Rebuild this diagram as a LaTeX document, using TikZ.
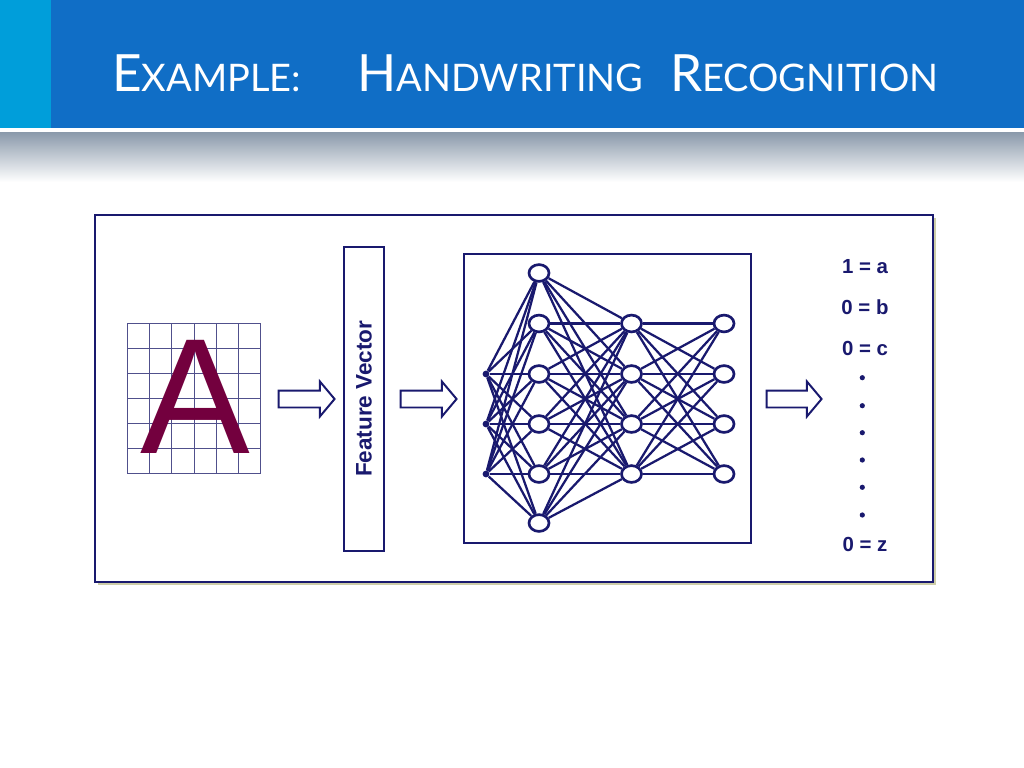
\documentclass[tikz,border=0pt]{standalone}
\usepackage{fontspec}
\usetikzlibrary{shapes,arrows,positioning}
\setmainfont{Liberation Sans}
\newfontfamily\titlefont{Lato}
\definecolor{navy}{RGB}{25,25,110}
\definecolor{barblue}{RGB}{16,110,198}
\definecolor{stripblue}{RGB}{0,158,218}
\definecolor{fadegray}{RGB}{140,155,172}
\definecolor{maroon}{RGB}{115,0,62}
\definecolor{gridc}{RGB}{80,80,140}
\definecolor{shadowc}{RGB}{205,205,168}
\newcommand{\capbig}[1]{{\fontsize{36.5pt}{40pt}\selectfont #1}}
\newcommand{\capsmall}[1]{{\fontsize{27pt}{30pt}\selectfont #1}}

\begin{document}
\begin{tikzpicture}[x=0.025cm, y=-0.025cm,
		neuron/.style={draw=navy, ellipse, line width=1.9pt, fill=white, minimum width=0.5cm, minimum height=0.42cm, inner sep=0},
		dotin/.style={circle, fill=navy, minimum size=0.17cm, inner sep=0},
		dotout/.style={circle, fill=navy, minimum size=0.13cm, inner sep=0},
		link/.style={draw=navy, line width=1.6pt},
		block/.style={draw=navy, line width=1.4pt, fill=white, single arrow, single arrow head extend=0.225cm, inner sep=0.1875cm, minimum height=1.4cm, single arrow tip angle=100},
		outtext/.style={text=navy, inner sep=0, anchor=base, font=\fontsize{14.5pt}{16pt}\selectfont\bfseries}]
	\useasboundingbox (0,0) rectangle (1024,768);
	% title bar
	\fill[barblue] (0,0) rectangle (1024,128);
	\fill[stripblue] (0,0) rectangle (51,128);
	\shade[top color=fadegray, bottom color=white] (0,133) rectangle (1024,182);
	\node[anchor=base west, inner sep=0, text=white, font=\titlefont] (title) at (112,92)
		{\capbig{E}\capsmall{XAMPLE:}\hspace{40pt}\capbig{H}\capsmall{ANDWRITING}\hspace{19pt}\capbig{R}\capsmall{ECOGNITION}};
	% frame
	\fill[shadowc] (98,218) rectangle (936,585);
	\draw[navy, line width=1.4pt, fill=white] (95,215) rectangle (933,582);
	% letter grid
	\foreach \i in {0,...,6} {
		\draw[gridc, line width=0.5pt] (127.3+\i*22.22,323.3) -- (127.3+\i*22.22,473.3);
		\draw[gridc, line width=0.5pt] (127.3,323.3+\i*25) -- (260.7,323.3+\i*25);
	}
	\node[anchor=base, inner sep=0, text=maroon, font=\fontsize{117pt}{120pt}\selectfont] (letter) at (195,453) {A};
	% feature vector and network box
	\node[block] (arr1) at (303,399) {};
	\node[draw=navy, line width=1.4pt, rotate=90, minimum width=7.6cm, minimum height=1cm, text=navy, font=\fontsize{16pt}{18pt}\selectfont\bfseries] (fvec) at (364,398.7) {Feature Vector};
	\node[block] (arr2) at (425,399) {};
	\node[draw=navy, line width=1.4pt, minimum width=7.175cm, minimum height=7.225cm] (net) at (607.5,398.5) {};
	% neurons
	\foreach \i/\y in {1/374,2/424,3/474}
		\node[dotin] (in\i) at (486,\y) {};
	\foreach \i/\y in {1/273,2/323.5,3/374,4/424,5/474,6/523}
		\node[neuron] (ha\i) at (539,\y) {};
	\foreach \i/\y in {1/323.5,2/374,3/424,4/474} {
		\node[neuron] (hb\i) at (631.5,\y) {};
		\node[neuron] (out\i) at (724,\y) {};
	}
	% links
	\foreach \i in {1,...,3}
		\foreach \j in {1,...,6}
			\draw[link] (in\i) -- (ha\j);
	\foreach \i in {1,...,6}
		\foreach \j in {1,...,4}
			\draw[link] (ha\i) -- (hb\j);
	\foreach \i in {1,...,4}
		\foreach \j in {1,...,4}
			\draw[link] (hb\i) -- (out\j);
	% outputs
	\node[block, minimum height=1.375cm] (arr3) at (790.5,399) {};
	\node[outtext] (outa) at (865,273.3) {1 = a};
	\node[outtext] (outb) at (865,314) {0 = b};
	\node[outtext] (outc) at (865,355) {0 = c};
	\foreach \i/\y in {1/377.7,2/405.7,3/432.7,4/460,5/487.3,6/515}
		\node[dotout] (gap\i) at (862.3,\y) {};
	\node[outtext] (outz) at (865,551.7) {0 = z};
\end{tikzpicture}
\end{document}
